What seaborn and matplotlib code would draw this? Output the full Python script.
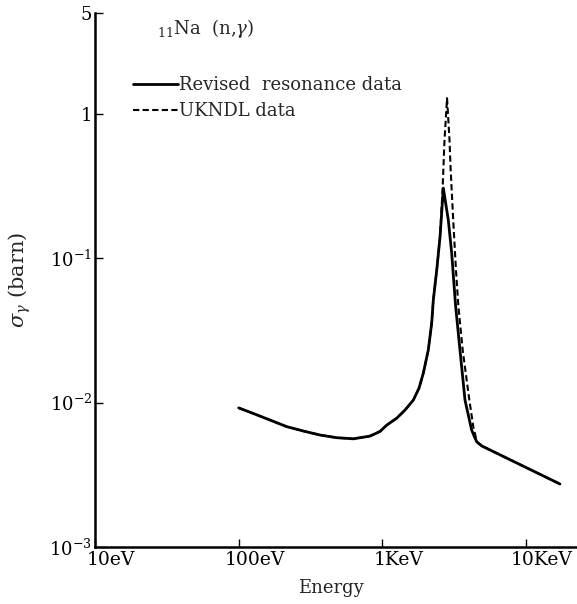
import numpy as np
import pandas as pd
import matplotlib
matplotlib.use("Agg")
import matplotlib.pyplot as plt
import matplotlib.transforms as mtransforms
from matplotlib.ticker import NullLocator
import seaborn as sns

# ---- data ----
revised_energy = [100, 126, 165, 216, 282, 368, 481, 628, 820, 961, 1072, 1259,
                  1436, 1641, 1799, 1927, 2086, 2203, 2261, 2388, 2518, 2655,
                  2876, 3036, 3228, 3466, 3757, 4178, 4375, 4550, 4930, 17200]
revised_sigma = [9.18e-3, 8.41e-3, 7.57e-3, 6.81e-3, 6.35e-3, 5.96e-3, 5.71e-3,
                 5.61e-3, 5.86e-3, 6.30e-3, 6.98e-3, 7.8e-3,
                 8.87e-3, 0.0104, 0.0126, 0.0160, 0.0231, 0.0355, 0.0512,
                 0.0826, 0.140, 0.305,
                 0.183, 0.108, 0.0473, 0.0231, 0.0104, 6.46e-3, 5.77e-3,
                 5.33e-3, 5.0e-3, 2.73e-3]

ukndl_energy = [100, 126, 165, 216, 282, 368, 481, 628, 820, 961, 1072, 1259,
                1436, 1641, 1799, 1927, 2086, 2203, 2261, 2388, 2518, 2625,
                2705, 2818, 2931, 2986, 3111, 3251, 3373, 3620, 4028, 4295,
                4550, 4930, 17200]
ukndl_sigma = [9.18e-3, 8.41e-3, 7.57e-3, 6.81e-3, 6.35e-3, 5.96e-3, 5.71e-3,
               5.61e-3, 5.86e-3, 6.30e-3, 6.98e-3, 7.8e-3,
               8.87e-3, 0.0104, 0.0126, 0.0160, 0.0231, 0.0355, 0.0512,
               0.0826, 0.140, 0.305,
               0.656, 1.28, 0.656, 0.406, 0.183, 0.0826, 0.0473, 0.0231,
               0.0104, 6.76e-3, 5.33e-3, 5.0e-3, 2.73e-3]

x_ticks = [10, 100, 1000, 10000]
x_tick_labels = ["10eV", "100eV", "1KeV", "10KeV"]
y_ticks = [1e-3, 1e-2, 1e-1, 1, 5]
y_tick_labels = [r"$10^{-3}$", r"$10^{-2}$", r"$10^{-1}$", "1", "5"]

series_labels = ["Revised  resonance data", "UKNDL data"]
title_text = r"$_{11}$Na  (n,$\gamma$)"
ylabel_text = r"$\sigma_\gamma$ (barn)"
xlabel_text = "Energy"

# ---- style ----
sns.set_style("ticks")
plt.rcParams["font.family"] = ["DejaVu Serif"]
plt.rcParams["mathtext.fontset"] = "dejavuserif"

W, H = 577, 604
fig = plt.figure(figsize=(W / 100, H / 100), dpi=100)
ax = fig.add_axes([95 / W, 1 - 547 / H, (W - 95) / W, (547 - 12.7) / H])

df1 = pd.DataFrame({"E": revised_energy, "s": revised_sigma})
df2 = pd.DataFrame({"E": ukndl_energy, "s": ukndl_sigma})

sns.lineplot(data=df2, x="E", y="s", ax=ax, sort=False, color="black",
             linewidth=1.5, linestyle=(0, (3.0, 1.6)), label=series_labels[1])
sns.lineplot(data=df1, x="E", y="s", ax=ax, sort=False, color="black",
             linewidth=2.0, label=series_labels[0])

ax.set_xscale("log")
ax.set_yscale("log")
ax.set_xlim(10, 10 ** (1 + (W - 95) / 143.7))
ax.set_ylim(1e-3, 5)

ax.set_xticks(x_ticks)
ax.set_xticklabels(x_tick_labels)
ax.set_yticks(y_ticks)
ax.set_yticklabels(y_tick_labels)
ax.xaxis.set_minor_locator(NullLocator())
ax.yaxis.set_minor_locator(NullLocator())

ax.tick_params(axis="x", direction="in", length=6, width=1.0, pad=3,
               labelsize=13.5, colors="black")
ax.tick_params(axis="y", direction="in", length=6, width=1.0, pad=2,
               labelsize=13, colors="black")
offset = mtransforms.ScaledTranslation(16 / 100, 0, fig.dpi_scale_trans)
for lab in ax.get_xticklabels():
    lab.set_transform(lab.get_transform() + offset)

for side in ["top", "right"]:
    ax.spines[side].set_visible(False)
for side in ["left", "bottom"]:
    ax.spines[side].set_linewidth(1.8)
    ax.spines[side].set_color("black")

ax.set_xlabel("")
ax.set_ylabel("")

fig.text(331 / W, 1 - 588 / H, xlabel_text, ha="center", va="center", fontsize=13)
fig.text(20 / W, 1 - 280 / H, ylabel_text, ha="center", va="center",
         rotation=90, fontsize=15)
fig.text(157 / W, 1 - 28 / H, title_text, ha="left", va="center", fontsize=13)

handles, labels = ax.get_legend_handles_labels()
order = [labels.index(series_labels[0]), labels.index(series_labels[1])]
leg = ax.legend([handles[i] for i in order], [labels[i] for i in order],
                loc="upper left", bbox_to_anchor=(133 / W, 1 - 76 / H),
                bbox_transform=fig.transFigure, frameon=False, fontsize=13,
                handlelength=2.5, handletextpad=0.05, labelspacing=0.45,
                borderpad=0, borderaxespad=0)

fig.savefig("out.png", dpi=100, facecolor="white")
